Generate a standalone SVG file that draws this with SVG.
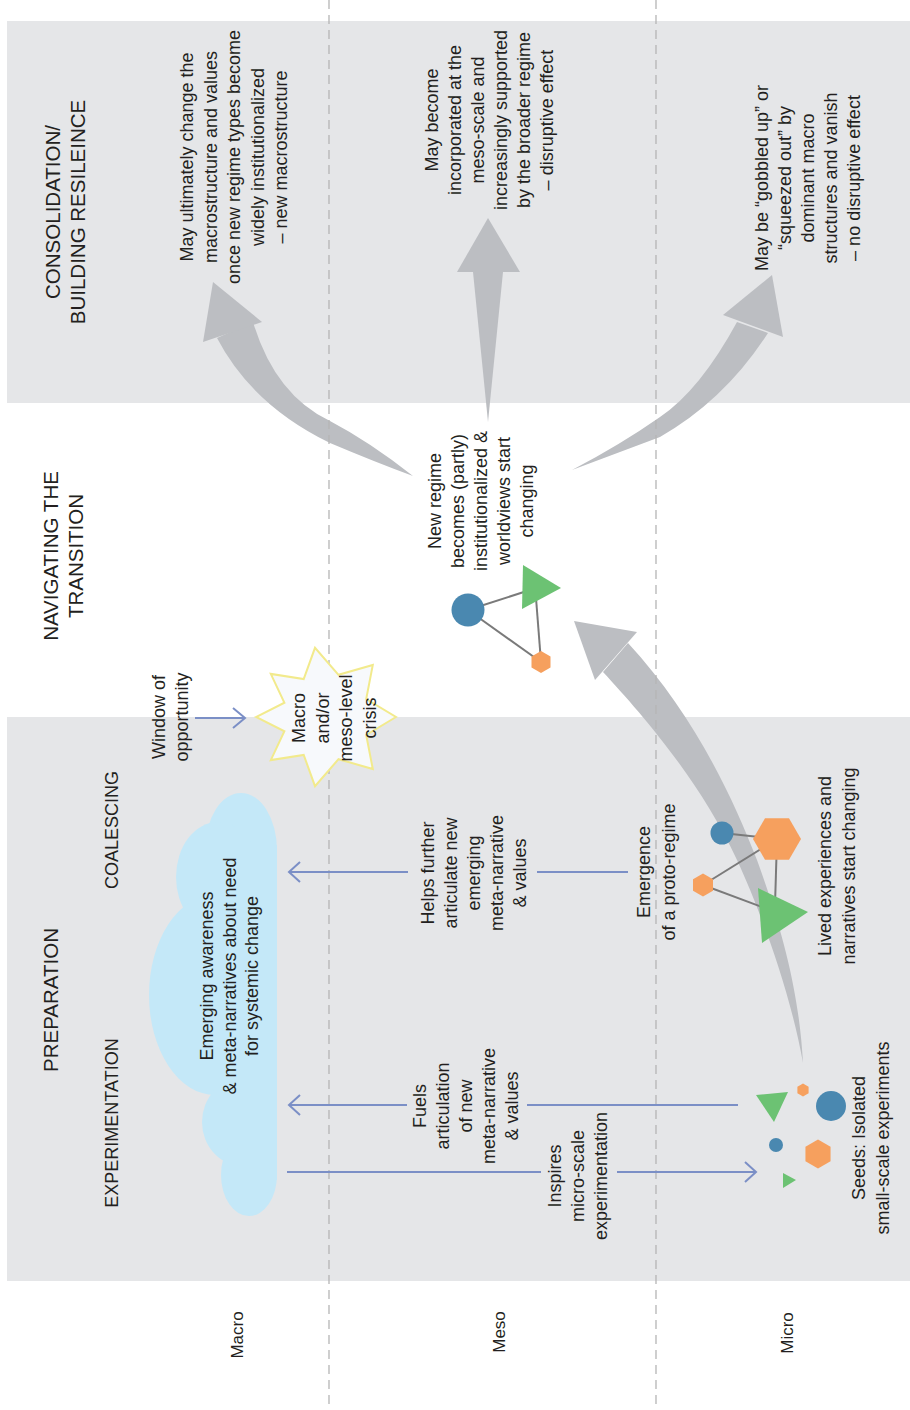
<svg xmlns="http://www.w3.org/2000/svg" width="910" height="1410" viewBox="0 0 910 1410">
<defs>
<style>
text{font-family:"Liberation Sans",Arial,sans-serif;fill:#231f20}
.title{font-size:20.5px}
.sub{font-size:18px}
.lbl{font-size:18px}
.lvl{font-size:17px}
.panel{fill:#e5e6e8}
.big{fill:#bcbec2}
.dash{stroke:#b5b5b5;stroke-width:1.3;stroke-dasharray:9 6;fill:none}
.conn{stroke:#7b8fc6;stroke-width:2;fill:none}
.link{stroke:#7a7a7a;stroke-width:2;fill:none}
.blue{fill:#4a88b0}
.orange{fill:#f6a05e}
.green{fill:#6cc273}
</style>
<clipPath id="cloudClip"><rect x="0" y="0" width="277" height="1410"/></clipPath>
</defs>
<rect width="910" height="1410" fill="#ffffff"/>
<g id="panels">
<rect class="panel" x="7" y="21" width="903" height="382"/>
<rect class="panel" x="7" y="717" width="903" height="564"/>
</g>
<g id="flow-arrows">
<path class="big" d="M217 338 Q252 405 330 443 Q375 462 413 476 Q370 442 330 421 Q275 395 253 322 Z"/>
<polygon class="big" points="213,282 262,322 203,342"/>
<polygon class="big" points="473,272 503,272 488,422"/>
<polygon class="big" points="457,272 520,272 488,218"/>
<path class="big" d="M737 322 Q700 390 660 417 Q620 445 572 470 Q620 452 660 437 Q725 400 768 333 Z"/>
<polygon class="big" points="772,275 723,315 783,337"/>
<path class="big" d="M603 672 C640 712 700 780 737 860 C760 910 790 990 803 1063 C800 1010 790 950 757 860 C730 790 690 710 628 643 Z"/>
<polygon class="big" points="574,621 637,632 595,680"/>
</g>
<g id="dividers">
<line class="dash" x1="329" y1="0" x2="329" y2="1410"/>
<line class="dash" x1="656" y1="0" x2="656" y2="1410"/>
</g>
<g id="cloud" clip-path="url(#cloudClip)" fill="#c4e8f8">
<ellipse cx="241" cy="850" rx="36" ry="57"/>
<ellipse cx="218" cy="877" rx="42" ry="55"/>
<ellipse cx="215" cy="995" rx="66" ry="100"/>
<ellipse cx="245" cy="1122" rx="43" ry="45"/>
<ellipse cx="249" cy="1175" rx="28" ry="41"/>
<rect x="235" y="845" width="42" height="335"/>
</g>
<g id="crisis-star">
<polygon points="396,717 366.2,734.9 372.8,769 338.5,759.2 315,786.2 303.7,754.9 270.8,760.1 284.4,731.3 256,717 284.4,702.7 270.8,673.9 303.7,679.1 315,647.8 338.5,674.8 372.8,665 366.2,699.1" fill="#f7f9fc" stroke="#f2ea8c" stroke-width="2" stroke-linejoin="miter"/>
</g>
<g id="connectors">
<line class="conn" x1="195" y1="718" x2="245" y2="718"/>
<polyline class="conn" points="233,708 245,718 233,728"/>
<line class="conn" x1="290" y1="872" x2="408" y2="872"/>
<line class="conn" x1="537" y1="872" x2="628" y2="872"/>
<polyline class="conn" points="300,862 289,872 300,882"/>
<line class="conn" x1="290" y1="1105" x2="407" y2="1105"/>
<line class="conn" x1="527" y1="1105" x2="738" y2="1105"/>
<polyline class="conn" points="300,1095 289,1105 300,1115"/>
<line class="conn" x1="287" y1="1172" x2="541" y2="1172"/>
<line class="conn" x1="617" y1="1172" x2="756" y2="1172"/>
<polyline class="conn" points="745,1162 756,1172 745,1182"/>
</g>
<g id="regime">
<line class="link" x1="468" y1="610" x2="530" y2="590"/>
<line class="link" x1="468" y1="610" x2="541" y2="662"/>
<line class="link" x1="536" y1="598" x2="541" y2="662"/>
<circle class="blue" cx="468" cy="610" r="16.5"/>
<polygon class="green" points="523,565 561,588 522,609"/>
<polygon class="orange" points="541,651 550.5,656.5 550.5,667.5 541,673 531.5,667.5 531.5,656.5"/>
</g>
<g id="proto-regime">
<line class="link" x1="722" y1="833" x2="777" y2="839"/>
<line class="link" x1="777" y1="839" x2="703" y2="885"/>
<line class="link" x1="703" y1="885" x2="770" y2="910"/>
<line class="link" x1="777" y1="839" x2="775" y2="905"/>
<circle class="blue" cx="722" cy="833" r="11.5"/>
<polygon class="orange" points="753,839 765,818.2 789,818.2 801,839 789,859.8 765,859.8"/>
<polygon class="orange" points="703,873.5 713,879.25 713,890.75 703,896.5 693,890.75 693,879.25"/>
<polygon class="green" points="758,888 808,912 762,943"/>
</g>
<g id="seeds">
<polygon class="orange" points="803,1083.5 808.6,1086.75 808.6,1093.25 803,1096.5 797.4,1093.25 797.4,1086.75"/>
<polygon class="green" points="756,1095 788,1092 774,1122"/>
<circle class="blue" cx="831" cy="1106" r="15"/>
<circle class="blue" cx="776" cy="1145" r="7"/>
<polygon class="orange" points="818,1139.5 830.56,1146.75 830.56,1161.25 818,1168.5 805.44,1161.25 805.44,1146.75"/>
<polygon class="green" points="783,1173 796,1180 783,1188"/>
</g>
<g id="labels" text-anchor="middle">
<text class="title" transform="translate(60,212) rotate(-90)"><tspan x="0" y="0">CONSOLIDATION/</tspan><tspan x="0" y="25">BUILDING RESILEINCE</tspan></text>
<text class="title" transform="translate(58,556) rotate(-90)"><tspan x="0" y="0">NAVIGATING THE</tspan><tspan x="0" y="25">TRANSITION</tspan></text>
<text class="title" transform="translate(58,1000) rotate(-90)">PREPARATION</text>
<text class="sub" transform="translate(118,830) rotate(-90)">COALESCING</text>
<text class="sub" transform="translate(118,1123) rotate(-90)">EXPERIMENTATION</text>
<text class="lbl" transform="translate(193,157) rotate(-90)"><tspan x="0" y="0">May ultimately change the</tspan><tspan x="0" y="23.5">macrostructure and values</tspan><tspan x="0" y="47">once new regime types become</tspan><tspan x="0" y="70.5">widely institutionalized</tspan><tspan x="0" y="94">– new macrostructure</tspan></text>
<text class="lbl" transform="translate(438,120) rotate(-90)"><tspan x="0" y="0">May become</tspan><tspan x="0" y="23">incorporated at the</tspan><tspan x="0" y="46">meso-scale and</tspan><tspan x="0" y="69">increasingly supported</tspan><tspan x="0" y="92">by the broader regime</tspan><tspan x="0" y="115">– disruptive effect</tspan></text>
<text class="lbl" transform="translate(768,178) rotate(-90)"><tspan x="0" y="0">May be “gobbled up” or</tspan><tspan x="0" y="23">“squeezed out” by</tspan><tspan x="0" y="46">dominant macro</tspan><tspan x="0" y="69">structures and vanish</tspan><tspan x="0" y="92">– no disruptive effect</tspan></text>
<text class="lbl" transform="translate(441,501) rotate(-90)"><tspan x="0" y="0">New regime</tspan><tspan x="0" y="23">becomes (partly)</tspan><tspan x="0" y="46">institutionalized &amp;</tspan><tspan x="0" y="69">worldviews start</tspan><tspan x="0" y="92">changing</tspan></text>
<text class="lbl" transform="translate(165,717) rotate(-90)"><tspan x="0" y="0">Window of</tspan><tspan x="0" y="23">opportunity</tspan></text>
<text class="lbl" transform="translate(305,718) rotate(-90)"><tspan x="0" y="0">Macro</tspan><tspan x="0" y="23.5">and/or</tspan><tspan x="0" y="47">meso-level</tspan><tspan x="0" y="70.5">crisis</tspan></text>
<text class="lbl" transform="translate(213,976) rotate(-90)"><tspan x="0" y="0">Emerging awareness</tspan><tspan x="0" y="22.5">&amp; meta-narratives about need</tspan><tspan x="0" y="45">for systemic change</tspan></text>
<text class="lbl" transform="translate(433.5,873) rotate(-90)"><tspan x="0" y="0">Helps further</tspan><tspan x="0" y="23">articulate new</tspan><tspan x="0" y="46">emerging</tspan><tspan x="0" y="69">meta-narrative</tspan><tspan x="0" y="92">&amp; values</tspan></text>
<text class="lbl" transform="translate(426,1106) rotate(-90)"><tspan x="0" y="0">Fuels</tspan><tspan x="0" y="23">articulation</tspan><tspan x="0" y="46">of new</tspan><tspan x="0" y="69">meta-narrative</tspan><tspan x="0" y="92">&amp; values</tspan></text>
<text class="lbl" transform="translate(561,1176) rotate(-90)"><tspan x="0" y="0">Inspires</tspan><tspan x="0" y="23">micro-scale</tspan><tspan x="0" y="46">experimentation</tspan></text>
<text class="lbl" transform="translate(650,872) rotate(-90)"><tspan x="0" y="0">Emergence</tspan><tspan x="0" y="24.5">of a proto-regime</tspan></text>
<text class="lbl" transform="translate(831,866) rotate(-90)"><tspan x="0" y="0">Lived experiences and</tspan><tspan x="0" y="24">narratives start changing</tspan></text>
<text class="lbl" transform="translate(865,1138) rotate(-90)"><tspan x="0" y="0">Seeds:  Isolated</tspan><tspan x="0" y="24">small-scale experiments</tspan></text>
<text class="lvl" transform="translate(243,1335) rotate(-90)">Macro</text>
<text class="lvl" transform="translate(505,1332) rotate(-90)">Meso</text>
<text class="lvl" transform="translate(793,1333) rotate(-90)">Micro</text>
</g>
</svg>
